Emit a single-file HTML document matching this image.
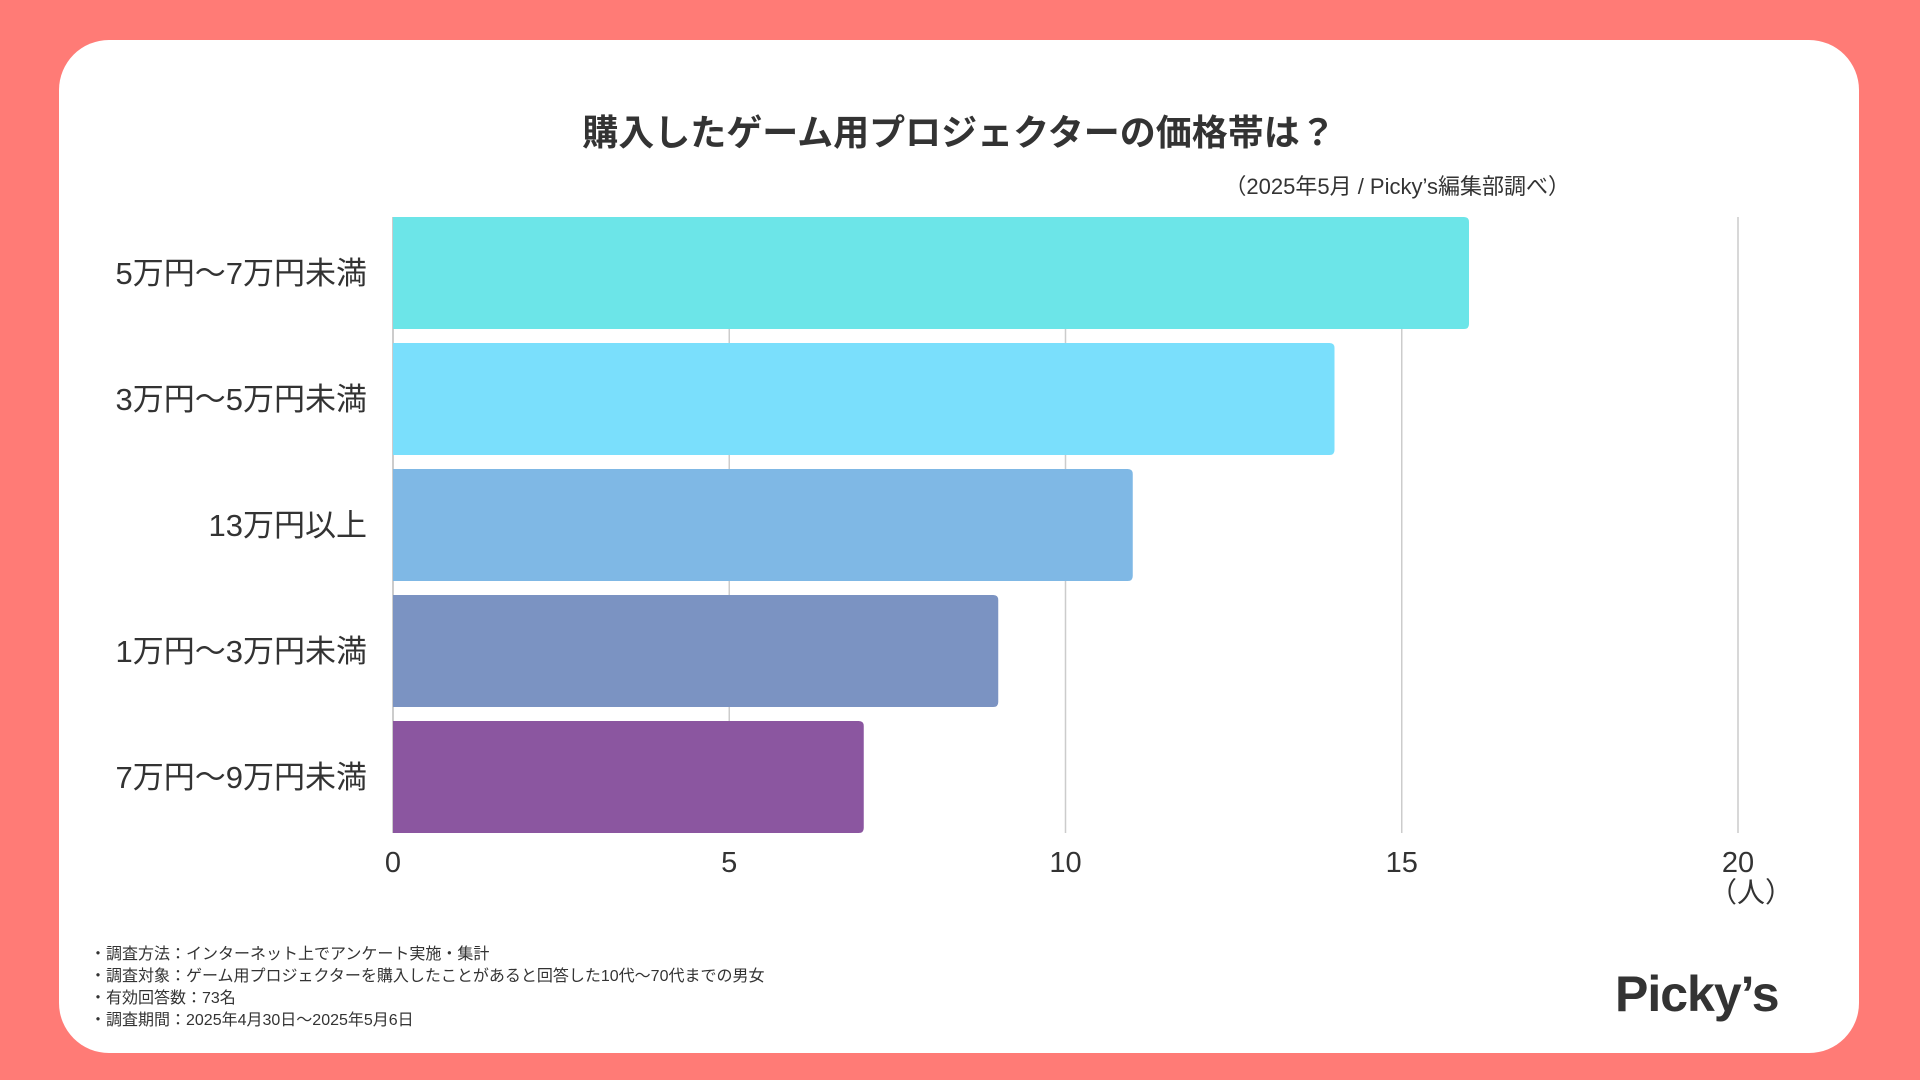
<!DOCTYPE html>
<html lang="ja"><head><meta charset="utf-8">
<style>
html,body{margin:0;padding:0}
body{width:1920px;height:1080px;background:#ff7b76;position:relative;overflow:hidden;font-family:"Liberation Sans","Noto Sans CJK JP",sans-serif;color:#333}
#card{position:absolute;left:59px;top:40px;width:1800px;height:1013px;background:#fff;border-radius:50px}
.t{position:absolute;white-space:nowrap}
</style></head><body>
<div id="card"></div>
<div class="t" style="left:0;width:1918px;text-align:center;top:104px;font-size:36px;font-weight:bold;color:#333">購入したゲーム用プロジェクターの価格帯は？</div>
<div class="t" style="right:350px;top:169px;font-size:22px;color:#333">（2025年5月 / Picky’s編集部調べ）</div>
<svg id="chart" width="1920" height="1080" style="position:absolute;left:0;top:0"></svg>
<div class="t" style="left:90px;top:944px;font-size:16px;line-height:22px;color:#333">
・調査方法：インターネット上でアンケート実施・集計<br>
・調査対象：ゲーム用プロジェクターを購入したことがあると回答した10代〜70代までの男女<br>
・有効回答数：73名<br>
・調査期間：2025年4月30日〜2025年5月6日</div>
<div class="t" style="left:1615px;top:965px;font-size:50px;font-weight:bold;color:#333;letter-spacing:-1px">Picky’s</div>
<script>
const categories=["5万円〜7万円未満","3万円〜5万円未満","13万円以上","1万円〜3万円未満","7万円〜9万円未満"];
const values=[16,14,11,9,7];
const colors=["#6ce5e8","#7adffc","#7fb8e5","#7b93c2","#8b56a0"];
const ticks=[0,5,10,15,20];
const tickLabels=["0","5","10","15","20"];
const NS="http://www.w3.org/2000/svg";
const svg=document.getElementById('chart');
const X0=393,X1=1738,MAX=20,Y0=217,STEP=126,BH=112;
function x(v){return X0+(X1-X0)*v/MAX;}
function y(i){return Y0+i*STEP;}
function mk(t,a){const e=document.createElementNS(NS,t);for(const k in a)e.setAttribute(k,a[k]);svg.appendChild(e);return e;}
ticks.forEach((t,i)=>{
  const g=mk('line',{x1:x(t),x2:x(t),y1:Y0,y2:y(categories.length-1)+BH,stroke:t===0?'#bbb':'#ccc','stroke-width':1.5});
  
  
  const l=mk('text',{x:x(t),y:872,'text-anchor':'middle','font-size':29,fill:'#333'});
  l.textContent=tickLabels[i];
  
  
});
categories.forEach((c,i)=>{
  const r=mk('path',{d:`M${x(0)},${y(i)}H${x(values[i])-5}Q${x(values[i])},${y(i)} ${x(values[i])},${y(i)+5}V${y(i)+BH-5}Q${x(values[i])},${y(i)+BH} ${x(values[i])-5},${y(i)+BH}H${x(0)}Z`,fill:colors[i]});
  
  
  const l=mk('text',{x:367,y:y(i)+BH/2+11,'text-anchor':'end','font-size':31,fill:'#333'});
  l.textContent=c;
  
  
});
const u=mk('text',{x:1751,y:902,'text-anchor':'middle','font-size':28,fill:'#333'});
u.textContent='（人）';


</script>
</body></html>
